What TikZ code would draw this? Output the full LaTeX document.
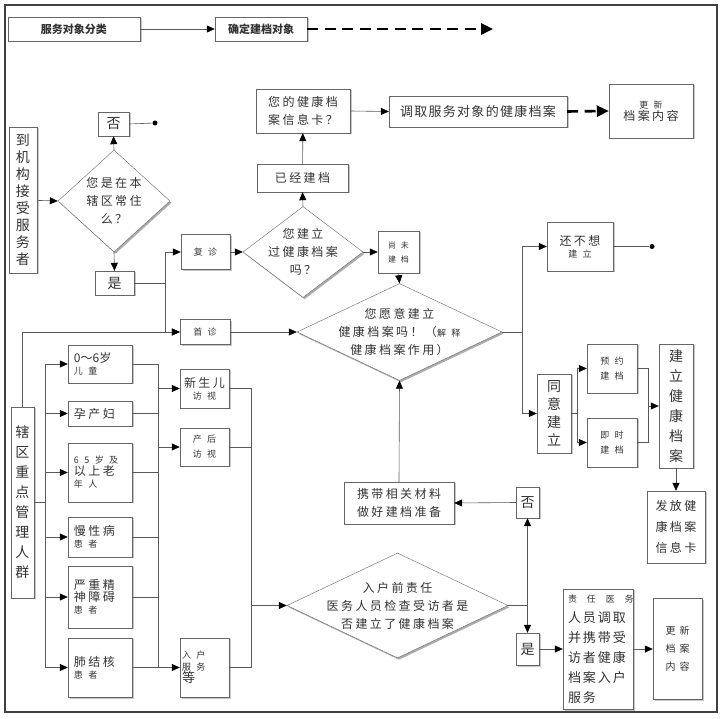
\documentclass[tikz,border=0pt]{standalone}
\usepackage{fontspec}
\setmainfont{Noto Sans CJK SC}
\usetikzlibrary{arrows.meta,shapes.geometric,shadows}

\newcommand{\fsL}{\fontsize{14}{17}\selectfont}
\newcommand{\fsM}{\fontsize{12}{18}\selectfont\addfontfeature{LetterSpace=20}}
\newcommand{\fsS}{\fontsize{9}{15}\selectfont\addfontfeature{LetterSpace=60}}
\newcommand{\fsT}{\fontsize{11}{13}\selectfont\bfseries}

\tikzset{
  wh/.style 2 args={minimum width=#1pt, minimum height=#2pt},
  box/.style={draw=gray!80!black, fill=white, inner sep=1pt, align=center, text=black!80,
    drop shadow={shadow xshift=1.5pt, shadow yshift=-1.5pt, fill=gray!45, opacity=1}},
  lbox/.style={box, align=left, text width=#1},
  dia/.style={diamond, draw=gray!80!black, fill=white, inner sep=0pt,
    drop shadow={shadow xshift=1.5pt, shadow yshift=-1.8pt, fill=gray!65, opacity=1}},
  line/.style={draw=gray!70!black, line width=0.6pt},
  arr/.style={line, -{Triangle[length=8pt,width=7pt,black]}},
  dot/.style={circle, fill=black, inner sep=0pt, minimum size=5pt},
  bigdash/.style={line width=2.6pt, black, dash pattern=on 11pt off 6.5pt,
    -{Triangle[length=12pt,width=11pt]}},
}

\begin{document}
\begin{tikzpicture}[x=1pt, y=-1pt]
\useasboundingbox (0,0) rectangle (724,719);

% frame
\draw[gray!50!black, line width=1.6pt] (5,5) rectangle (717,712);

% === top bar ===
\node[box, wh={132}{24}, font=\fsT] (cls) at (74,29) {服务对象分类};
\node[box, wh={92}{24}, font=\fsT] (det) at (261,29) {确定建档对象};
\coordinate (topend) at (493,29);
\draw[arr] (cls) -- (det);
\draw[bigdash] (det.east) -- (topend);

% === arriving at the clinic ===
\node[box, wh={28}{146}, font=\fsL] (arrive) at (23,200) {到\\机\\构\\接\\受\\服\\务\\者};
\node[dia, wh={112}{102},
  label={[font=\fsM, align=center, text=black!80]center:{您是在本\\辖区常住\\么？}}] (q1) at (114,201) {};
\node[box, wh={31}{24}, font=\fsL] (no1) at (113.5,124) {否};
\node[dot] (end1) at (155,123) {};
\node[box, wh={39}{24}, font=\fsL] (yes1) at (114.5,283) {是};

\draw[arr] (arrive) -- (q1.west);
\draw[arr] (q1.north) -- (no1.south);
\draw[line] (no1.east) -- (end1);
\draw[arr] (q1.south) -- (yes1.north);

\node[box, wh={49}{35}, font=\fsS] (revisit) at (205.5,252) {复诊};
\node[box, wh={50}{25}, font=\fsS] (first) at (205,332) {首诊};
\draw[line] (yes1.east) -- ++(31,0) coordinate (ja);
\draw[arr] (ja) |- (revisit.west);
\draw[arr] (ja) |- (first.west);

% === already has a record? ===
\node[dia, wh={120}{91},
  label={[font=\fsM, align=center, text=black!80]center:{您建立\\过健康档案\\吗？}}] (q2) at (303,252) {};
\node[box, wh={91}{28}, font=\fsM] (built) at (302.5,178) {已经建档};
\node[box, wh={94}{44}, font=\fsM] (card) at (303,111) {您的健康档\\案信息卡？};
\node[box, wh={178}{31}, font=\fontsize{13}{15}\selectfont\addfontfeature{LetterSpace=10}] (fetch) at (478,111.5) {调取服务对象的健康档案};
\node[box, wh={84}{54}] (upd1) at (651,111) {{\fsS 更新}\\{\fsM 档案内容}};
\node[box, wh={41}{42}, font=\fontsize{8}{14}\selectfont\addfontfeature{LetterSpace=60}] (notyet) at (398.5,252) {尚未\\建档};

\draw[arr] (revisit) -- (q2.west);
\draw[arr] (q2.north) -- (built.south);
\draw[arr] (built) -- (card);
\draw[arr] (card.east) -- (fetch.west);
\draw[bigdash] (fetch.east) -- (upd1.west);
\draw[arr] (q2.east) -- (notyet.west);

% === willing to build a record? ===
\node[dia, wh={205}{97},
  label={[font=\fsM, align=center, text=black!80]center:{您愿意建立\\健康档案吗！（{\fsS 解释}\\健康档案作用）}}] (q3) at (399.5,332) {};
\draw[arr] (notyet.south) -- (q3.north);
\draw[arr] (first.east) -- (q3.west);

\node[box, wh={66}{49}] (refuse) at (580,246.5) {{\fsM 还不想}\\{\fsS 建立}};
\node[dot] (end2) at (652,246.5) {};
\node[box, wh={34}{79}, font=\fontsize{14}{18}\selectfont] (agree) at (554,413.5) {同\\意\\建\\立};
\node[box, wh={50}{49}, font=\fsS] (appt) at (612,368.5) {预约\\建档};
\node[box, wh={50}{49}, font=\fsS] (now) at (612,442.5) {即时\\建档};
\node[box, wh={34}{124}, font=\fontsize{14}{20}\selectfont] (create) at (676,406) {建\\立\\健\\康\\档\\案};
\node[box, wh={58}{72}, font=\fontsize{12}{21}\selectfont\addfontfeature{LetterSpace=20}] (issue) at (676,527) {发放健\\康档案\\信息卡};

\draw[line] (q3.east) -- ++(20,0) coordinate (jb);
\draw[arr] (jb) |- (refuse.west);
\draw[arr] (jb) |- (agree.west);
\draw[line] (refuse.east) -- (end2);
\draw[line] (agree.east) -- ++(6,0) coordinate (jc);
\draw[arr] (jc) |- (appt.west);
\draw[arr] (jc) |- (now.west);
\draw[line] (appt.east) -- ++(11,0) coordinate (jd) -- (jd |- now.east) -- (now.east);
\draw[arr] (jd |- create.west) -- (create.west);
\draw[arr] (create.south) -- (issue.north);

% === key groups in the district ===
\node[box, wh={23}{191}, font=\fontsize{14}{20}\selectfont] (key) at (22.5,502.5) {辖\\区\\重\\点\\管\\理\\人\\群};
\node[lbox=52pt, wh={64}{38}] (kid) at (100,364) {{\fontsize{12}{16}\selectfont 0～6岁}\\{\fsS 儿童}};
\node[lbox=52pt, wh={64}{25}, font=\fsM] (preg) at (100,413.5) {孕产妇};
\node[lbox=52pt, wh={64}{59}] (old) at (100,472.5) {{\fsS 65岁及}\\{\fsM 以上老}\\{\fsS 年人}};
\node[lbox=52pt, wh={64}{40}] (chronic) at (100,537) {{\fsM 慢性病}\\{\fsS 患者}};
\node[lbox=52pt, wh={64}{62}] (mental) at (100,597) {{\fsM 严重精}\\{\fsM 神障碍}\\{\fsS 患者}};
\node[lbox=52pt, wh={64}{59}] (tb) at (100,667.5) {{\fsM 肺结核}\\{\fsS 患者}};

\node[box, wh={49}{39}] (newborn) at (204.5,388.5) {{\fsM 新生儿}\\{\fsS 访视}};
\node[box, wh={49}{38}, font=\fsS] (postnatal) at (204.5,447) {产后\\访视};
\node[lbox=45pt, wh={49}{59}] (home) at (204.5,667.5) {{\fsS 入户}\\{\fsS 服务}\\{\fontsize{13}{15}\selectfont 等}};

\draw[arr] (key.north) |- (first.west);
\draw[line] (key.east) -- ++(11,0) coordinate (jk);
\draw[line] (jk |- kid.west) -- (jk |- tb.west);
\foreach \n in {kid,preg,old,chronic,mental,tb}
  \draw[arr] (jk |- \n.west) -- (\n.west);

\coordinate (busL) at (158,0);
\foreach \n in {kid,preg,old,chronic,mental,tb}
  \draw[line] (\n.east) -- (busL |- \n.east);
\draw[line] (busL |- kid.east) -- (busL |- tb.east);
\foreach \n in {newborn,postnatal,home}
  \draw[arr] (busL |- \n.west) -- (\n.west);

% === home visit check ===
\node[dia, wh={221}{105},
  label={[font=\fsM, align=center, text=black!80]center:{入户前责任\\医务人员检查受访者是\\否建立了健康档案}}] (q4) at (397.5,605.5) {};
\coordinate (busR) at (251,0);
\foreach \n in {newborn,postnatal,home}
  \draw[line] (\n.east) -- (busR |- \n.east);
\draw[line] (busR |- newborn.east) -- (busR |- home.east);
\draw[arr] (busR |- q4.west) -- (q4.west);

\node[box, wh={23}{31}, font=\fsL] (no2) at (527.5,502.5) {否};
\node[box, wh={23}{32}, font=\fsL] (yes2) at (527.5,649) {是};
\node[box, wh={110}{42}, font=\fsM] (prep) at (399,503) {携带相关材料\\做好建档准备};
\node[lbox=60pt, wh={70}{120}, font=\fontsize{13}{20}\selectfont\addfontfeature{LetterSpace=15}] (doc) at (598,649)
  {{\fontsize{9}{15}\selectfont\addfontfeature{LetterSpace=110}责任医务}\\人员调取\\并携带受\\访者健康\\档案入户\\服务};
\node[box, wh={49}{101}, font=\fontsize{10}{18}\selectfont\addfontfeature{LetterSpace=40}] (upd2) at (677.5,649) {更新\\档案\\内容};

\draw[line] (q4.east) -- (no2.south |- q4.east) coordinate (je);
\draw[arr] (je) -- (no2.south);
\draw[arr] (je) -- (yes2.north);
\draw[arr] (no2.west) -- (prep.east);
\draw[arr] (prep.north) -- (q3.south);
\draw[arr] (yes2.east) -- (doc.west);
\draw[arr] (doc.east) -- (upd2.west);

\end{tikzpicture}
\end{document}
